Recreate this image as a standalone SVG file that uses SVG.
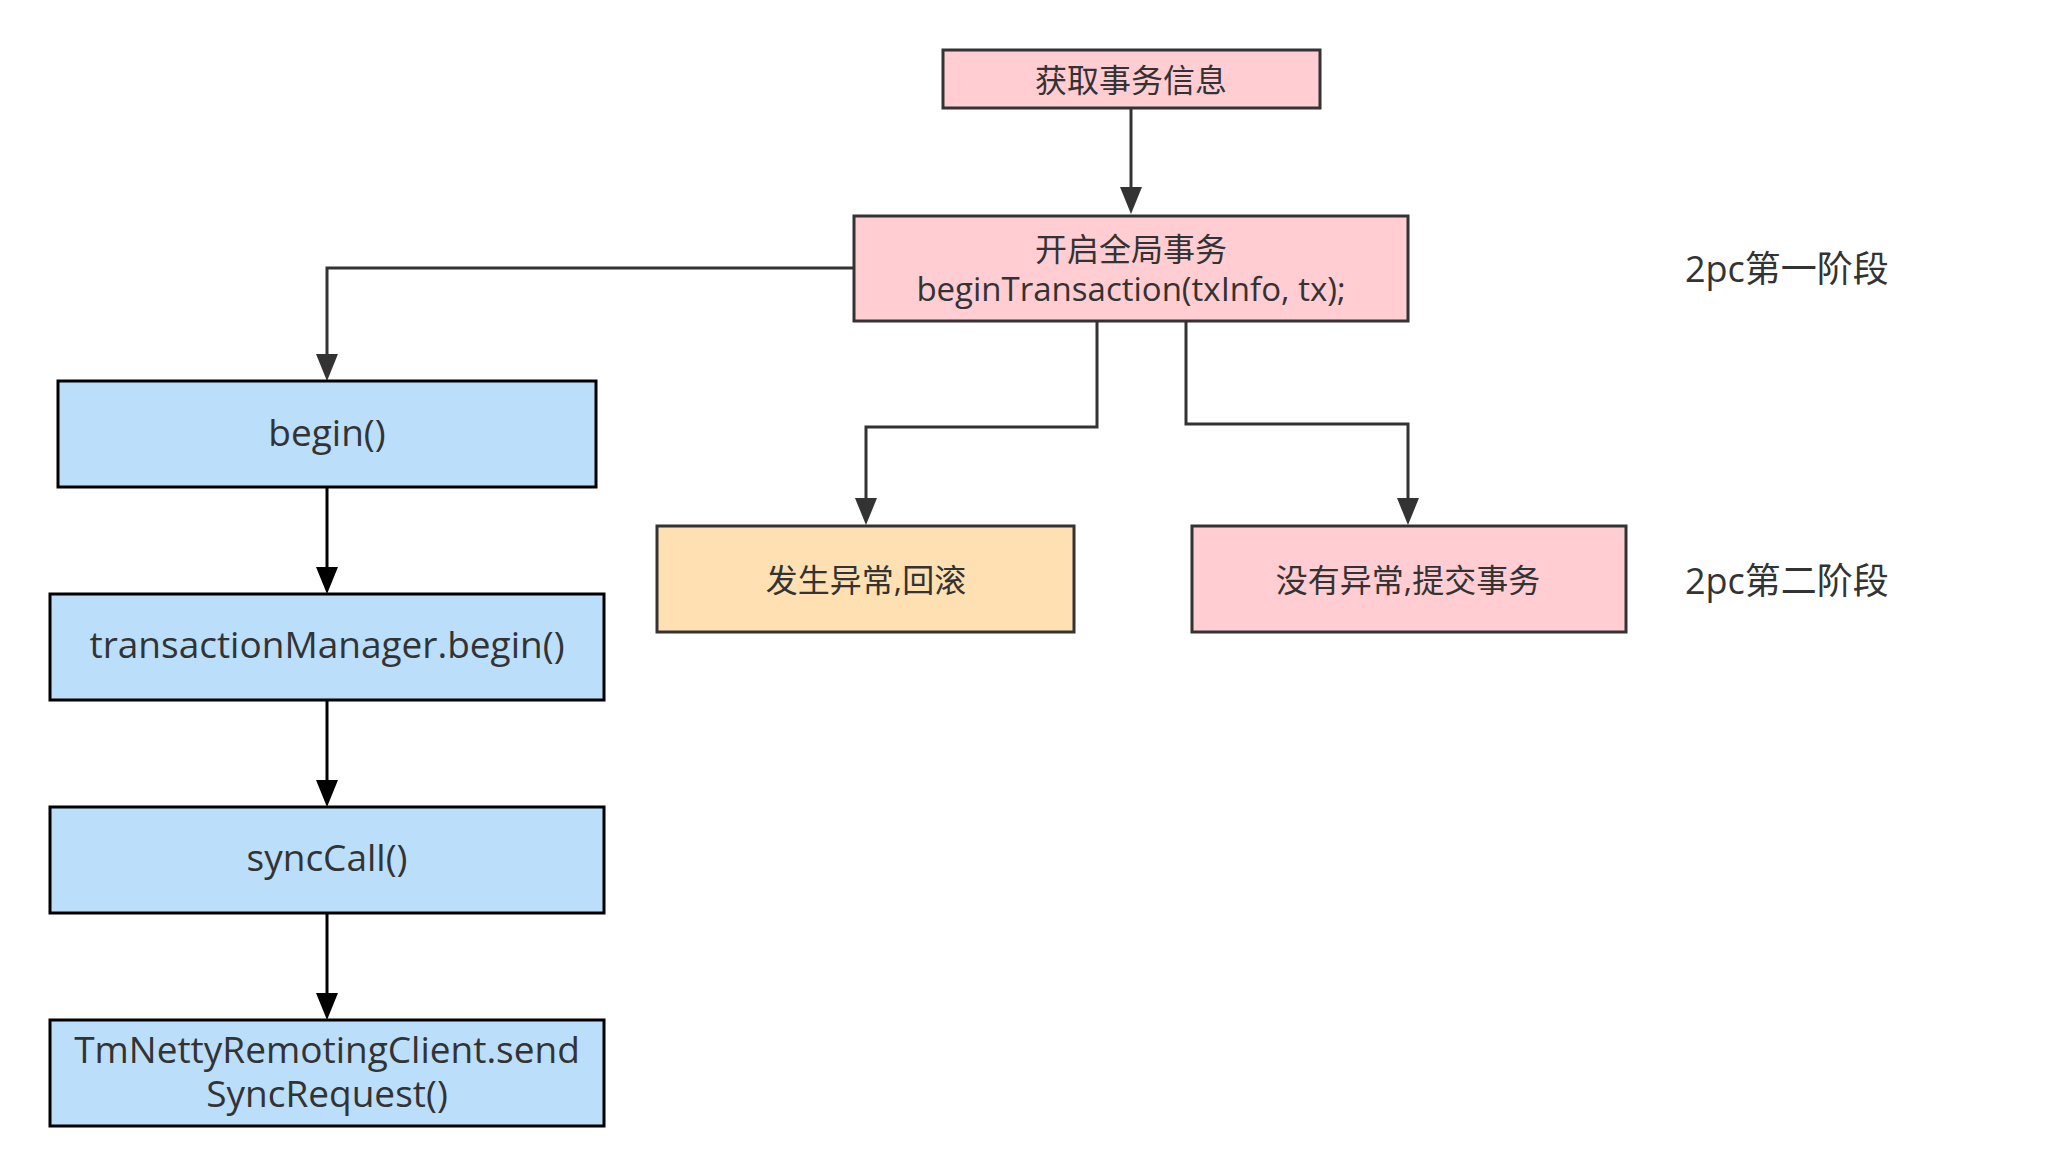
<svg xmlns="http://www.w3.org/2000/svg" width="2062" height="1175" viewBox="0 0 2062 1175">
<defs>
<style>
.box{stroke-width:3}
.pink{fill:#FFCDD2;stroke:#333}
.orange{fill:#FFE0B2;stroke:#333}
.blue{fill:#BBDEFB;stroke:#000}
.t{font-family:"Open Sans","Noto Sans CJK SC",sans-serif;fill:#333;text-anchor:middle;dominant-baseline:central}
.c{font-size:32px}
.m{font-size:33px}
.l{font-size:37px}
.ph{font-size:36px;text-anchor:start}
.e1{fill:none;stroke:#333;stroke-width:3}
.e2{fill:none;stroke:#000;stroke-width:3}
.h1{fill:#333}
.h2{fill:#000}
</style>
</defs>
<rect width="2062" height="1175" fill="#fff"/>
<g id="connectors">
<path class="e1" d="M1131,109 V188"/>
<path class="h1" d="M1120,187 L1142,187 L1131,214 z"/>
<path class="e1" d="M854,268 H327 V355"/>
<path class="h1" d="M316,354 L338,354 L327,381 z"/>
<path class="e1" d="M1097,322 V427 H866 V499"/>
<path class="h1" d="M855,498 L877,498 L866,525 z"/>
<path class="e1" d="M1186,322 V424 H1408 V499"/>
<path class="h1" d="M1397,498 L1419,498 L1408,525 z"/>
<path class="e2" d="M327,488 V568"/>
<path class="h2" d="M316,567 L338,567 L327,594 z"/>
<path class="e2" d="M327,701 V781"/>
<path class="h2" d="M316,780 L338,780 L327,807 z"/>
<path class="e2" d="M327,914 V994"/>
<path class="h2" d="M316,993 L338,993 L327,1020 z"/>
</g>
<g id="n-info">
<rect class="box pink" x="943" y="50" width="377" height="58"/>
<text class="t c" x="1131" y="79">获取事务信息</text>
</g>
<g id="n-begin-tx">
<rect class="box pink" x="854" y="216" width="554" height="105"/>
<text class="t c" x="1131" y="248">开启全局事务</text>
<text class="t m" x="1131" y="288">beginTransaction(txInfo, tx);</text>
</g>
<g id="n-rollback">
<rect class="box orange" x="657" y="526" width="417" height="106"/>
<text class="t c" x="866" y="579">发生异常,回滚</text>
</g>
<g id="n-commit">
<rect class="box pink" x="1192" y="526" width="434" height="106"/>
<text class="t c" x="1408" y="579">没有异常,提交事务</text>
</g>
<g id="n-begin">
<rect class="box blue" x="58" y="381" width="538" height="106"/>
<text class="t l" x="327" y="431">begin()</text>
</g>
<g id="n-tm-begin">
<rect class="box blue" x="50" y="594" width="554" height="106"/>
<text class="t l" x="327" y="643">transactionManager.begin()</text>
</g>
<g id="n-synccall">
<rect class="box blue" x="50" y="807" width="554" height="106"/>
<text class="t l" x="327" y="856">syncCall()</text>
</g>
<g id="n-send">
<rect class="box blue" x="50" y="1020" width="554" height="106"/>
<text class="t l" x="327" y="1048">TmNettyRemotingClient.send</text>
<text class="t l" x="327" y="1092">SyncRequest()</text>
</g>
<g id="phase-labels">
<text class="t ph" x="1685" y="268">2pc第一阶段</text>
<text class="t ph" x="1685" y="580">2pc第二阶段</text>
</g>
</svg>
